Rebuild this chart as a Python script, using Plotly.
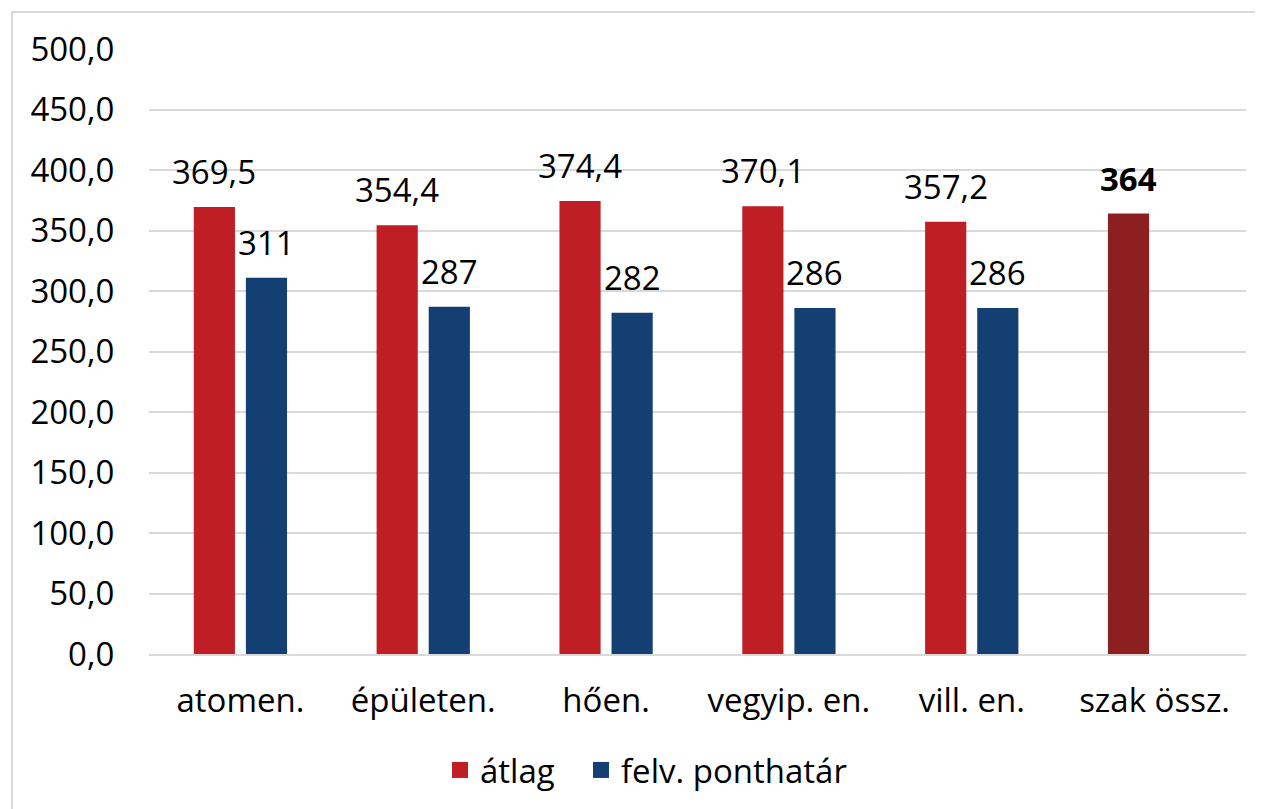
import plotly.graph_objects as go

categories = ["atomen.", "épületen.", "hően.", "vegyip. en.", "vill. en.", "szak össz."]
atlag = [369.5, 354.4, 374.4, 370.1, 357.2, 364]
ponthatar = [311, 287, 282, 286, 286, None]
y_ticks = [0, 50, 100, 150, 200, 250, 300, 350, 400, 450, 500]

RED = "#BE1E24"
DARK_RED = "#8E1F20"
BLUE = "#143F73"
GRID = "#D9D9D9"
FONT = "Open Sans"
FS = 33

def fmt1(v):
    return f"{v:.1f}".replace(".", ",")

atlag_text = [fmt1(v) for v in atlag[:-1]] + [f"<b>{atlag[-1]:.0f}</b>"]
atlag_colors = [RED] * (len(atlag) - 1) + [DARK_RED]
ponthatar_text = ["" if v is None else f"{v:.0f}" for v in ponthatar]

fig = go.Figure()
fig.add_trace(go.Bar(
    x=categories, y=atlag, name="átlag", showlegend=False,
    marker=dict(color=atlag_colors, line=dict(width=0)),
    hoverinfo="skip",
))
fig.add_trace(go.Bar(
    x=categories, y=ponthatar, name="felv. ponthatár", showlegend=False,
    marker=dict(color=BLUE, line=dict(width=0)),
    hoverinfo="skip",
))
# legend proxies (larger square keys), each in its own legend box
for name, col, lg in [("átlag", RED, "legend"), ("felv. ponthatár", BLUE, "legend2")]:
    fig.add_trace(go.Scatter(
        x=[None], y=[None], mode="markers", name=name, legend=lg,
        marker=dict(symbol="square", size=21, color=col),
        hoverinfo="skip",
    ))

# value labels
OFF = 26
annotations = []
for cat, v, t in zip(categories, atlag, atlag_text):
    annotations.append(dict(x=cat, y=v, text=t, xref="x", yref="y",
                            showarrow=False, yanchor="bottom", xanchor="center",
                            xshift=-OFF, yshift=11,
                            font=dict(family=FONT, size=FS, color="black")))
for cat, v, t in zip(categories, ponthatar, ponthatar_text):
    if v is None:
        continue
    annotations.append(dict(x=cat, y=v, text=t, xref="x", yref="y",
                            showarrow=False, yanchor="bottom", xanchor="center",
                            xshift=OFF, yshift=11,
                            font=dict(family=FONT, size=FS, color="black")))

# page body has an 8px margin; compensate
L, R, T, B = 141, 25, 41, 163
W, H = 1263, 809
pw = W - L - R
ph = H - T - B

leg_common = dict(orientation="h", yanchor="middle", xanchor="left",
                  y=(T + ph - 762) / ph,
                  font=dict(family=FONT, size=FS, color="black"),
                  itemwidth=30, itemclick=False, itemdoubleclick=False,
                  bgcolor="rgba(0,0,0,0)")

fig.update_layout(
    width=W, height=H,
    margin=dict(l=L, r=R, t=T, b=B),
    paper_bgcolor="white", plot_bgcolor="white",
    separators=",.",
    barmode="group", bargap=0.43, bargroupgap=0.21,
    font=dict(family=FONT, size=FS, color="black"),
    showlegend=True,
    legend=dict(x=(432 - L) / pw, **leg_common),
    legend2=dict(x=(573 - L) / pw, **leg_common),
    annotations=annotations,
    xaxis=dict(showline=True, linecolor=GRID, linewidth=2, showgrid=False,
               ticks="outside", ticklen=16, tickcolor="rgba(0,0,0,0)",
               tickfont=dict(family=FONT, size=FS, color="black")),
    yaxis=dict(range=[0, 500], tickvals=y_ticks, tickformat=".1f",
               showgrid=True, gridcolor=GRID, gridwidth=2,
               zeroline=False, showline=False,
               ticks="outside", ticklen=27, tickcolor="rgba(0,0,0,0)",
               tickfont=dict(family=FONT, size=FS, color="black")),
    shapes=[dict(type="rect", xref="paper", yref="paper",
                 x0=(4 - L) / pw, x1=(W + 20 - L) / pw,
                 y0=(T + ph - (H + 20)) / ph, y1=1 + (T - 4) / ph,
                 line=dict(color=GRID, width=2), fillcolor="rgba(0,0,0,0)",
                 layer="below")],
)

fig.write_html("out.html")
